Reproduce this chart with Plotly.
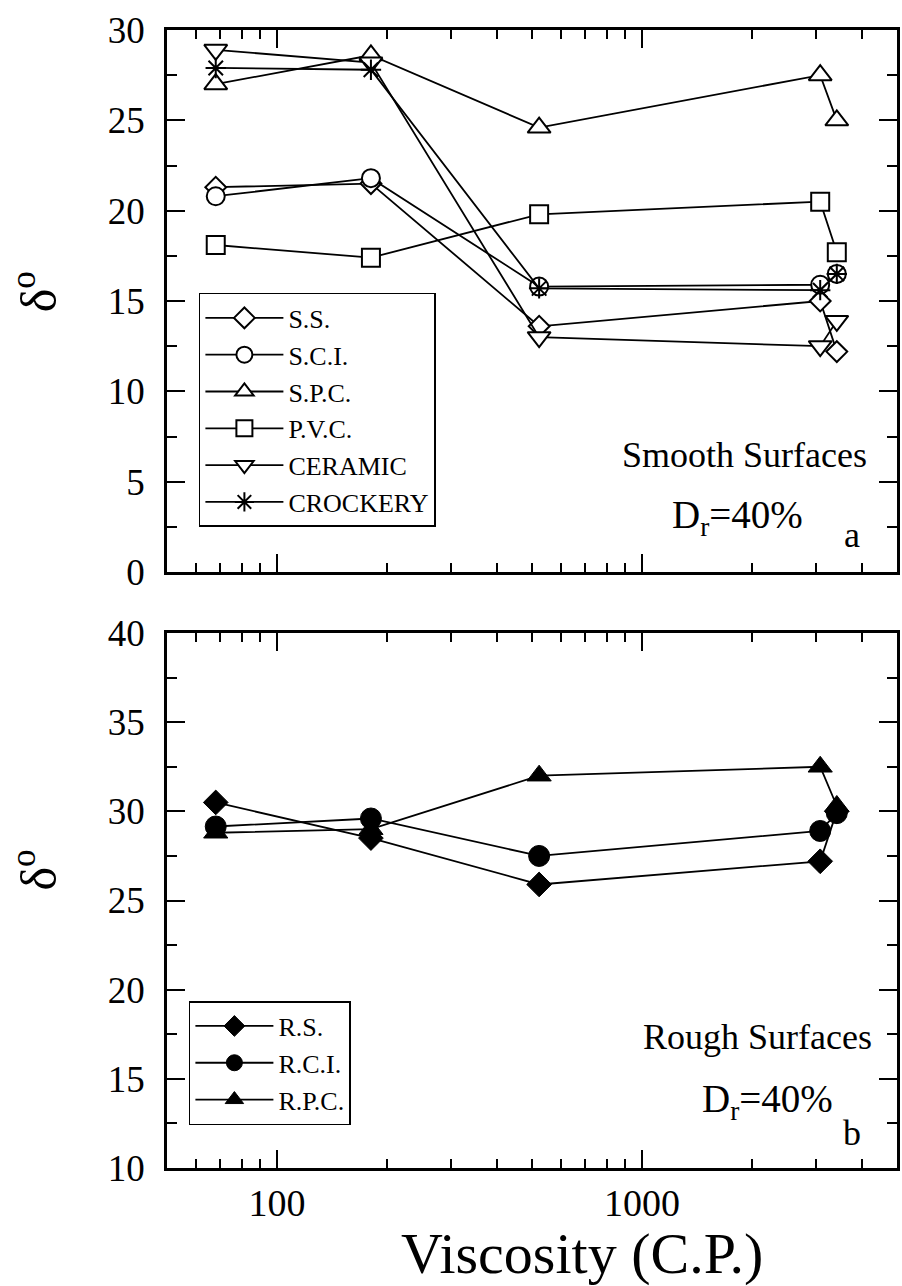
import math
import plotly.graph_objects as go

# ---------------- data ----------------
viscosity = [68, 181, 523, 3080, 3420]

smooth_names = ["S.S.", "S.C.I.", "S.P.C.", "P.V.C.", "CERAMIC", "CROCKERY"]
ss = [21.3, 21.5, 13.6, 15.0, 12.2]
sci = [20.8, 21.8, 15.8, 15.9, 16.5]
spc = [27.0, 28.6, 24.6, 27.5, 25.0]
pvc = [18.1, 17.4, 19.8, 20.5, 17.7]
ceramic = [28.9, 28.2, 13.0, 12.5, 13.9]
crockery = [27.9, 27.8, 15.7, 15.6, 16.5]

rough_names = ["R.S.", "R.C.I.", "R.P.C."]
rs = [30.5, 28.5, 25.9, 27.2, 30.0]
rci = [29.15, 29.6, 27.5, 28.9, 29.9]
rpc = [28.8, 29.0, 32.0, 32.5, 30.3]

x_major = [100, 1000]
x_major_labels = ["100", "1000"]
x_minor = [50, 60, 70, 80, 90, 200, 300, 400, 500, 600, 700, 800, 900, 2000, 3000, 4000, 5000]

FONT = "Liberation Serif"

fig = go.Figure()

smooth_series = [ss, sci, spc, pvc, ceramic, crockery]
smooth_symbols = ["diamond", "circle", "triangle-up", "square", "triangle-down", "asterisk-open"]
smooth_sizes = [16, 18, 20, 18, 20, 17]
smooth_fill = ["white", "white", "white", "white", "white", "black"]
for name, vals, sym, sz, fc in zip(smooth_names, smooth_series, smooth_symbols, smooth_sizes, smooth_fill):
    fig.add_trace(go.Scatter(
        x=viscosity, y=vals, name=name, mode="lines+markers",
        xaxis="x", yaxis="y", legend="legend", legendgroup=name,
        line=dict(color="black", width=1.8),
        marker=dict(symbol=sym, size=sz, color=fc,
                    line=dict(color="black", width=2)),
    ))

rough_series = [rs, rci, rpc]
rough_symbols = ["diamond", "circle", "triangle-up"]
rough_sizes = [19, 21, 21]
for name, vals, sym, sz in zip(rough_names, rough_series, rough_symbols, rough_sizes):
    fig.add_trace(go.Scatter(
        x=viscosity, y=vals, name=name, mode="lines+markers",
        xaxis="x2", yaxis="y2", legend="legend2", legendgroup=name,
        line=dict(color="black", width=1.8),
        marker=dict(symbol=sym, size=sz, color="black",
                    line=dict(color="black", width=1)),
    ))

xrange = [math.log10(50), math.log10(5000)]

def xaxis(anchor, labels):
    return dict(
        type="log", range=xrange, domain=[0, 1], anchor=anchor,
        tickmode="array", tickvals=x_major, ticktext=x_major_labels,
        showticklabels=labels, ticks="inside", ticklen=18, tickwidth=2,
        tickcolor="black", showline=True, linewidth=2.5, linecolor="black",
        mirror="ticks", showgrid=False, zeroline=False,
        tickfont=dict(family=FONT, size=38, color="black"),
        minor=dict(tickmode="array", tickvals=x_minor, ticks="inside",
                   ticklen=9, tickwidth=2, tickcolor="black", showgrid=False),
    )

def yaxis(anchor, domain, rng):
    return dict(
        range=rng, domain=domain, anchor=anchor, tick0=0, dtick=5,
        ticks="inside", ticklen=18, tickwidth=2, tickcolor="black",
        showline=True, linewidth=2.5, linecolor="black", mirror="ticks",
        showgrid=False, zeroline=False, ticklabelstandoff=12,
        tickfont=dict(family=FONT, size=37, color="black"),
        minor=dict(dtick=2.5, ticks="inside", ticklen=10, tickwidth=2,
                   tickcolor="black", showgrid=False),
    )

legend_common = dict(
    bgcolor="white", bordercolor="black", borderwidth=1.5,
    font=dict(family=FONT, size=26, color="black"),
    xanchor="left", yanchor="top", itemwidth=78,
    traceorder="normal",
)

annots = [
    dict(text="Smooth Surfaces", x=0.962, y=0.6265, xanchor="right", yanchor="middle",
         font=dict(size=36)),
    dict(text="D<sub>r</sub>=40%", x=0.6889, y=0.572, xanchor="left", yanchor="middle",
         font=dict(size=39)),
    dict(text="a", x=0.939, y=0.556, xanchor="center", yanchor="middle",
         font=dict(size=36)),
    dict(text="Rough Surfaces", x=0.9686, y=0.1151, xanchor="right", yanchor="middle",
         font=dict(size=36)),
    dict(text="D<sub>r</sub>=40%", x=0.7306, y=0.058, xanchor="left", yanchor="middle",
         font=dict(size=39)),
    dict(text="b", x=0.9386, y=0.0308, xanchor="center", yanchor="middle",
         font=dict(size=36)),
    dict(text="δ<sup>o</sup>", x=-0.18, y=0.770, xanchor="center", yanchor="middle",
         textangle=-90, font=dict(size=50)),
    dict(text="δ<sup>o</sup>", x=-0.18, y=0.262, xanchor="center", yanchor="middle",
         textangle=-90, font=dict(size=50)),
    dict(text="Viscosity (C.P.)", x=0.568, y=-0.0755, xanchor="center", yanchor="middle",
         font=dict(size=58)),
]
for a in annots:
    a.update(xref="paper", yref="paper", showarrow=False)
    a["font"].update(family=FONT, color="black")

fig.update_layout(
    width=902, height=1286,
    margin=dict(l=167, r=2, t=30, b=118),
    plot_bgcolor="white", paper_bgcolor="white",
    xaxis=xaxis("y", False),
    yaxis=yaxis("x", [0.5237, 1.0], [0, 30]),
    xaxis2=xaxis("y2", True),
    yaxis2=yaxis("x2", [0.0, 0.4701], [10, 40]),
    legend=dict(x=0.0437, y=0.7689, tracegroupgap=3, **legend_common),
    legend2=dict(x=0.030, y=0.1467, tracegroupgap=5, **legend_common),
    annotations=annots,
    showlegend=True,
)

fig.write_html("out.html")
